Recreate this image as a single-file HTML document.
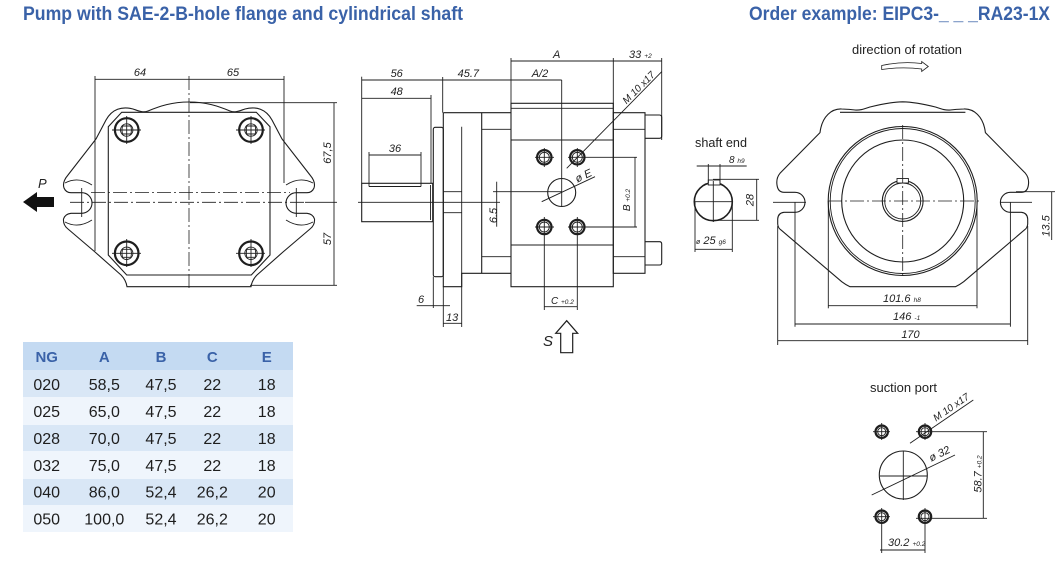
<!DOCTYPE html>
<html><head><meta charset="utf-8"><style>
html,body{margin:0;padding:0;background:#fff;}
svg{display:block;}
.l{stroke:#1e1e1e;stroke-width:1.1;fill:none;}
.t{stroke:#1e1e1e;stroke-width:0.9;fill:none;}
.c{stroke:#1e1e1e;stroke-width:0.8;fill:none;stroke-dasharray:14 3 2 3;}
.d{font-family:"Liberation Sans",sans-serif;font-style:italic;font-size:11px;fill:#222;}
.s{font-family:"Liberation Sans",sans-serif;font-style:italic;font-size:7px;fill:#222;}
.n{font-family:"Liberation Sans",sans-serif;font-size:13px;fill:#222;}
.h{font-family:"Liberation Sans",sans-serif;font-weight:bold;font-size:19px;fill:#3a62a8;}
.th{font-family:"Liberation Sans",sans-serif;font-weight:bold;font-size:15px;fill:#3a62a8;}
.td{font-family:"Liberation Sans",sans-serif;font-size:16px;fill:#1e1e1e;}
.ring{stroke:#1e1e1e;stroke-width:2.2;fill:none;}
</style></head><body>
<svg width="1055" height="561" viewBox="0 0 1055 561" xmlns="http://www.w3.org/2000/svg">
<rect width="1055" height="561" fill="#fff"/>
<!-- Titles -->
<text class="h" x="23" y="20" textLength="440" lengthAdjust="spacingAndGlyphs">Pump with SAE-2-B-hole flange and cylindrical shaft</text>
<text class="h" x="749" y="20" textLength="301" lengthAdjust="spacingAndGlyphs">Order example: EIPC3-_ _ _RA23-1X</text>

<!-- ================= LEFT VIEW ================= -->
<path class="l" d="M189,102 C172,102 160,106 148,111 C143,113 139,111 133,109 C122,106 112,109 106,120 L96,139 L68,175 Q62,182 64,188 Q66,192.7 71,192.7 L81.7,192.7 A10.3,10.3 0 0 1 81.7,213.3 L71,213.3 Q65,214 63.5,219 Q63,225 68,229 L95,252 L121,275 Q126,280 127,286.7 L251,286.7 Q252,280 257,275 L283,252 L310,229 Q315,225 314.5,219 Q313,214 307,213.3 L296.3,213.3 A10.3,10.3 0 0 1 296.3,192.7 L307,192.7 Q312,192.7 314,188 Q316,182 310,175 L282,139 L272,120 C266,109 256,106 245,109 C239,111 235,113 230,111 C218,106 206,102 189,102 Z"/>
<!-- lobe fillets -->
<path class="t" d="M65,183 Q78,176 92,185"/>
<path class="t" d="M65,222 Q78,229 92,220"/>
<path class="t" d="M313,183 Q300,176 286,185"/>
<path class="t" d="M313,222 Q300,229 286,220"/>
<!-- inner plate -->
<path class="l" d="M121.7,112.3 L256.3,112.3 L270,126.7 L270,255 L251.3,275 L126.7,275 L108.3,255 L108.3,126.7 Z"/>
<!-- side lines / ext -->
<line class="t" x1="95" y1="76" x2="95" y2="251"/>
<line class="t" x1="284" y1="76" x2="284" y2="183"/>
<!-- bolts -->
<g>
<circle class="ring" cx="126.7" cy="130" r="11.8"/><circle class="t" cx="126.7" cy="130" r="6.2"/><path class="t" d="M122.5,126 L130.9,126 L131.5,130 L130.9,134 L122.5,134 L121.9,130 Z"/><line class="t" x1="112" y1="130" x2="141" y2="130"/><line class="t" x1="126.7" y1="116" x2="126.7" y2="144"/>
<circle class="ring" cx="251" cy="130" r="11.8"/><circle class="t" cx="251" cy="130" r="6.2"/><path class="t" d="M246.8,126 L255.2,126 L255.8,130 L255.2,134 L246.8,134 L246.2,130 Z"/><line class="t" x1="236" y1="130" x2="265" y2="130"/><line class="t" x1="251" y1="116" x2="251" y2="144"/>
<circle class="ring" cx="126.7" cy="253.3" r="11.8"/><circle class="t" cx="126.7" cy="253.3" r="6.2"/><path class="t" d="M122.5,249.3 L130.9,249.3 L131.5,253.3 L130.9,257.3 L122.5,257.3 L121.9,253.3 Z"/><line class="t" x1="112" y1="253.3" x2="141" y2="253.3"/><line class="t" x1="126.7" y1="239" x2="126.7" y2="267"/>
<circle class="ring" cx="251" cy="253.3" r="11.8"/><circle class="t" cx="251" cy="253.3" r="6.2"/><path class="t" d="M246.8,249.3 L255.2,249.3 L255.8,253.3 L255.2,257.3 L246.8,257.3 L246.2,253.3 Z"/><line class="t" x1="236" y1="253.3" x2="265" y2="253.3"/><line class="t" x1="251" y1="239" x2="251" y2="267"/>
</g>
<!-- center lines -->
<line class="c" x1="189" y1="76" x2="189" y2="290"/>
<line class="c" x1="70" y1="202.3" x2="305" y2="202.3"/>
<line class="c" x1="91" y1="192.5" x2="290" y2="192.5"/>
<line class="t" x1="81.7" y1="188" x2="81.7" y2="217"/>
<line class="t" x1="296.3" y1="188" x2="296.3" y2="217"/>
<!-- dims -->
<line class="t" x1="95" y1="79.3" x2="284" y2="79.3"/>
<text class="d" x="140" y="76" text-anchor="middle">64</text>
<text class="d" x="233" y="76" text-anchor="middle">65</text>
<line class="t" x1="190" y1="102.7" x2="337" y2="102.7"/>
<line class="t" x1="305" y1="202.3" x2="337" y2="202.3"/>
<line class="t" x1="250" y1="285.3" x2="337" y2="285.3"/>
<line class="t" x1="334" y1="102.7" x2="334" y2="285.3"/>
<text class="d" transform="translate(331,153) rotate(-90)" text-anchor="middle">67,5</text>
<text class="d" transform="translate(331,239) rotate(-90)" text-anchor="middle">57</text>
<!-- P arrow -->
<path d="M23,202 L37,192 L37,197 L54,197 L54,207 L37,207 L37,212 Z" fill="#111"/>
<text class="d" x="38" y="188" style="font-size:13px">P</text>

<!-- ================= MIDDLE VIEW ================= -->
<!-- shaft -->
<rect class="l" x="361.7" y="183.3" width="71" height="38.4"/>
<line class="t" x1="369" y1="186.5" x2="421" y2="186.5"/>
<line class="t" x1="430.5" y1="185" x2="430.5" y2="220"/>
<!-- pilot -->
<rect class="l" x="433.3" y="127.3" width="10" height="149.4" rx="2"/>
<!-- flange -->
<path class="l" d="M443.3,112.7 L511,112.7 M443.3,112.7 L443.3,286.7 L461.7,286.7 L461.7,273.3 L511,273.3 M481.7,112.7 L481.7,273.3"/>
<line class="t" x1="461.7" y1="126.7" x2="461.7" y2="286.7"/>
<line class="t" x1="443.3" y1="191.7" x2="461.7" y2="191.7"/>
<line class="t" x1="443.3" y1="212.7" x2="461.7" y2="212.7"/>
<line class="t" x1="481.7" y1="129.3" x2="511" y2="129.3"/>
<line class="t" x1="481.7" y1="256.7" x2="511" y2="256.7"/>
<!-- main body -->
<rect class="l" x="511" y="103.3" width="102.3" height="183.4"/>
<line class="t" x1="511" y1="108.3" x2="613.3" y2="108.3"/>
<line class="l" x1="511" y1="140" x2="613.3" y2="140"/>
<line class="l" x1="511" y1="245" x2="613.3" y2="245"/>
<!-- rear -->
<rect class="l" x="613.3" y="112.7" width="31.7" height="160.6"/>
<line class="t" x1="613.3" y1="129.3" x2="645" y2="129.3"/>
<line class="t" x1="613.3" y1="256.7" x2="645" y2="256.7"/>
<path class="l" d="M645,115 L659.5,115 Q661.7,115 661.7,117.5 L661.7,136 Q661.7,138.3 659.5,138.3 L645,138.3"/>
<path class="l" d="M645,241.7 L659.5,241.7 Q661.7,241.7 661.7,244 L661.7,262.7 Q661.7,265 659.5,265 L645,265"/>
<!-- ports -->
<circle class="ring" cx="544.3" cy="157.3" r="7.2"/><circle class="t" cx="544.3" cy="157.3" r="5"/>
<circle class="ring" cx="577.3" cy="157.3" r="7.2"/><circle class="t" cx="577.3" cy="157.3" r="5"/>
<circle class="ring" cx="544.3" cy="227" r="7.2"/><circle class="t" cx="544.3" cy="227" r="5"/>
<circle class="ring" cx="577.3" cy="227" r="7.2"/><circle class="t" cx="577.3" cy="227" r="5"/>
<line class="t" x1="535" y1="157.3" x2="554" y2="157.3"/><line class="t" x1="544.3" y1="148" x2="544.3" y2="167"/>
<line class="t" x1="568" y1="157.3" x2="637" y2="157.3"/><line class="t" x1="577.3" y1="148" x2="577.3" y2="167"/>
<line class="t" x1="535" y1="227" x2="554" y2="227"/><line class="t" x1="544.3" y1="217" x2="544.3" y2="310"/>
<line class="t" x1="568" y1="227" x2="637" y2="227"/><line class="t" x1="577.3" y1="217" x2="577.3" y2="310"/>
<!-- phi E -->
<circle class="l" cx="561.7" cy="192.5" r="14"/>
<line class="t" x1="561.7" y1="80" x2="561.7" y2="207"/>
<line class="t" x1="493" y1="191.7" x2="561.7" y2="191.7"/>
<line class="t" x1="358" y1="202.3" x2="500" y2="202.3"/>
<line class="t" x1="496.7" y1="181.7" x2="496.7" y2="226.7"/>
<text class="d" transform="translate(497,215.5) rotate(-90)" text-anchor="middle">6.5</text>
<line class="t" x1="541.7" y1="201.7" x2="595" y2="176.7"/>
<text class="d" transform="translate(585,179) rotate(-25)" text-anchor="middle">ø E</text>
<line class="t" x1="566.7" y1="168.3" x2="661.7" y2="71.7"/>
<text class="d" transform="translate(641,90) rotate(-45)" text-anchor="middle" style="font-size:10px">M 10 x17</text>
<!-- B -->
<line class="t" x1="635" y1="157.3" x2="635" y2="227"/>
<text class="d" transform="translate(630,200) rotate(-90)" text-anchor="middle" style="font-size:10px">B <tspan style="font-size:6.5px">+0.2</tspan></text>
<!-- C -->
<line class="t" x1="544.3" y1="306.7" x2="577.3" y2="306.7"/>
<text class="d" x="551" y="304" style="font-size:10px">C <tspan style="font-size:6.5px">+0.2</tspan></text>
<!-- 6 & 13 -->
<line class="t" x1="433.3" y1="276.7" x2="433.3" y2="308"/>
<line class="t" x1="416.7" y1="305.7" x2="450" y2="305.7"/>
<text class="d" x="418" y="303">6</text>
<line class="t" x1="443.3" y1="286.7" x2="443.3" y2="327"/>
<line class="t" x1="461.7" y1="286.7" x2="461.7" y2="327"/>
<line class="t" x1="443.3" y1="323.3" x2="461.7" y2="323.3"/>
<text class="d" x="446" y="321">13</text>
<!-- top dims -->
<line class="t" x1="511" y1="61" x2="661.7" y2="61"/>
<line class="t" x1="511" y1="58" x2="511" y2="103.3"/>
<line class="t" x1="613.3" y1="58" x2="613.3" y2="112.7"/>
<line class="t" x1="661.7" y1="58" x2="661.7" y2="140"/>
<text class="d" x="556.7" y="58" text-anchor="middle">A</text>
<text class="d" x="629" y="58">33 <tspan style="font-size:6.5px">+2</tspan></text>
<line class="t" x1="361.7" y1="80" x2="561.7" y2="80"/>
<line class="t" x1="361.7" y1="76.7" x2="361.7" y2="183.3"/>
<line class="t" x1="442.7" y1="77" x2="442.7" y2="112.7"/>
<text class="d" x="396.7" y="77" text-anchor="middle">56</text>
<text class="d" x="468.3" y="77" text-anchor="middle">45.7</text>
<text class="d" x="540" y="77" text-anchor="middle">A/2</text>
<line class="t" x1="361.7" y1="98.3" x2="431" y2="98.3"/>
<line class="t" x1="431" y1="95" x2="431" y2="183.3"/>
<text class="d" x="396.7" y="95" text-anchor="middle">48</text>
<line class="t" x1="369" y1="155" x2="421" y2="155"/>
<line class="t" x1="369" y1="152" x2="369" y2="186.5"/>
<line class="t" x1="421" y1="152" x2="421" y2="186.5"/>
<text class="d" x="395" y="152" text-anchor="middle">36</text>
<!-- S arrow -->
<path d="M566.7,320.7 L577.7,333.3 L572.7,333.3 L572.7,352.7 L560.7,352.7 L560.7,333.3 L555.7,333.3 Z" fill="#fff" stroke="#1e1e1e" stroke-width="1.2"/>
<text class="d" x="543" y="346" style="font-size:15px">S</text>

<!-- ================= SHAFT END ================= -->
<text class="n" x="695" y="147" textLength="52" lengthAdjust="spacingAndGlyphs">shaft end</text>
<circle cx="713.3" cy="201.7" r="19" fill="none" stroke="#1e1e1e" stroke-width="1.6"/>
<rect x="708.3" y="180" width="11.7" height="5" fill="#fff" stroke="#1e1e1e" stroke-width="0.9"/>
<line class="t" x1="694" y1="201.7" x2="733" y2="201.7"/>
<line class="t" x1="713.3" y1="181" x2="713.3" y2="222"/>
<line class="t" x1="708.3" y1="164" x2="708.3" y2="183"/>
<line class="t" x1="720" y1="164" x2="720" y2="183"/>
<line class="t" x1="696.7" y1="166" x2="746.7" y2="166"/>
<text class="d" x="729" y="163" style="font-size:10px">8 <tspan style="font-size:6.5px">h9</tspan></text>
<line class="t" x1="713" y1="179.3" x2="759" y2="179.3"/>
<line class="t" x1="713" y1="220.3" x2="759" y2="220.3"/>
<line class="t" x1="756.7" y1="179.3" x2="756.7" y2="220.3"/>
<text class="d" transform="translate(753.5,200) rotate(-90)" text-anchor="middle">28</text>
<line class="t" x1="695" y1="201.7" x2="695" y2="252"/>
<line class="t" x1="732.3" y1="201.7" x2="732.3" y2="252"/>
<line class="t" x1="695" y1="249.3" x2="732.3" y2="249.3"/>
<text class="d" x="696" y="244" style="font-size:11px"><tspan style="font-size:7px">ø</tspan> 25 <tspan style="font-size:6.5px">g6</tspan></text>

<!-- ================= RIGHT VIEW ================= -->
<text class="n" x="852" y="54" textLength="110" lengthAdjust="spacingAndGlyphs">direction of rotation</text>
<path d="M881.7,65.5 Q902,61 921.7,63.5 L921.7,61.5 L928.3,66.5 L921.7,71.5 L921.7,69 Q902,66.5 881.7,69.5 Z" fill="#fff" stroke="#1e1e1e" stroke-width="0.8"/>
<path class="l" d="M902.7,101.8 C890,102 878,105 870,107 C864,109 860,110.5 855,110 C850,109.5 846,109 841.7,109 C832,108.5 822,116 820,132.6 L780,173.3 Q776,178 777,185 Q778,192.3 784,192.3 L795,192.3 A10,10 0 0 1 795,212.3 L784,212.3 Q778,213 777.7,219 L777.7,224 Q778,228 781,230 L841.7,281.7 Q846,285 850,286.7 L955.4,286.7 Q959.4,285 963.7,281.7 L1024.4,230 Q1027.4,228 1027.7,224 L1027.7,219 Q1027.4,213 1021.4,212.3 L1010.4,212.3 A10,10 0 0 1 1010.4,192.3 L1021.4,192.3 Q1027.4,192.3 1028.4,185 Q1029.4,178 1025.4,173.3 L985.4,132.6 C983.4,116 973.4,108.5 963.7,109 C959.4,109 955.4,109.5 950.4,110 C945.4,110.5 941.4,109 935.4,107 C927.4,105 915.4,102 902.7,101.8 Z"/>
<line class="l" x1="840" y1="112.3" x2="965.4" y2="112.3"/>
<circle class="l" cx="902.7" cy="201" r="74.5"/>
<circle class="t" cx="902.7" cy="201" r="72.5"/>
<circle class="l" cx="902.7" cy="201" r="61"/>
<circle class="l" cx="902.7" cy="201" r="20.4"/>
<circle class="t" cx="902.7" cy="201" r="18"/>
<rect x="897" y="178.5" width="11.4" height="4.5" fill="#fff" stroke="#1e1e1e" stroke-width="0.9"/>
<line class="c" x1="828" y1="201" x2="980" y2="201"/>
<line class="c" x1="902.7" y1="125" x2="902.7" y2="277"/>
<line class="t" x1="773" y1="202.3" x2="806" y2="202.3"/>
<line class="t" x1="1000" y1="202.3" x2="1032" y2="202.3"/>
<line class="t" x1="1016" y1="191.7" x2="1055" y2="191.7"/>
<line class="t" x1="1051.7" y1="191.7" x2="1051.7" y2="240"/>
<text class="d" transform="translate(1049.5,226) rotate(-90)" text-anchor="middle">13.5</text>
<line class="t" x1="828.3" y1="201" x2="828.3" y2="308.3"/>
<line class="t" x1="977" y1="201" x2="977" y2="308.3"/>
<line class="t" x1="828.3" y1="305.7" x2="977" y2="305.7"/>
<text class="d" x="883" y="302">101.6 <tspan style="font-size:6.5px">h8</tspan></text>
<line class="t" x1="795" y1="202" x2="795" y2="326.7"/>
<line class="t" x1="1010.4" y1="202" x2="1010.4" y2="326.7"/>
<line class="t" x1="795" y1="324" x2="1010.4" y2="324"/>
<text class="d" x="893" y="320">146 <tspan style="font-size:6.5px">-1</tspan></text>
<line class="t" x1="777.7" y1="226" x2="777.7" y2="345"/>
<line class="t" x1="1027.7" y1="226" x2="1027.7" y2="345"/>
<line class="t" x1="777.7" y1="340.7" x2="1027.7" y2="340.7"/>
<text class="d" x="910.5" y="338" text-anchor="middle">170</text>

<!-- ================= SUCTION PORT ================= -->
<text class="n" x="870" y="392" textLength="67" lengthAdjust="spacingAndGlyphs">suction port</text>
<circle class="ring" cx="881.7" cy="431.7" r="6.2"/><circle class="t" cx="881.7" cy="431.7" r="4"/>
<circle class="ring" cx="925" cy="431.7" r="6.2"/><circle class="t" cx="925" cy="431.7" r="4"/>
<circle class="ring" cx="881.7" cy="516.7" r="6.2"/><circle class="t" cx="881.7" cy="516.7" r="4"/>
<circle class="ring" cx="925" cy="516.7" r="6.2"/><circle class="t" cx="925" cy="516.7" r="4"/>
<line class="t" x1="873" y1="431.7" x2="890" y2="431.7"/><line class="t" x1="881.7" y1="423" x2="881.7" y2="440"/>
<line class="t" x1="916" y1="431.7" x2="987" y2="431.7"/><line class="t" x1="925" y1="423" x2="925" y2="440"/>
<line class="t" x1="873" y1="516.7" x2="890" y2="516.7"/><line class="t" x1="881.7" y1="508" x2="881.7" y2="553"/>
<line class="t" x1="916" y1="518.3" x2="987" y2="518.3"/><line class="t" x1="925" y1="508" x2="925" y2="553"/>
<circle class="l" cx="903.3" cy="475" r="24"/>
<line class="t" x1="903.3" y1="451" x2="903.3" y2="500"/>
<line class="t" x1="880" y1="476" x2="927" y2="476"/>
<line class="t" x1="871.7" y1="495" x2="955" y2="455"/>
<text class="d" transform="translate(941,457) rotate(-25.6)" text-anchor="middle">ø 32</text>
<line class="t" x1="910" y1="443.3" x2="973.3" y2="400"/>
<text class="d" transform="translate(953,410) rotate(-34.4)" text-anchor="middle" style="font-size:10px">M 10 x17</text>
<line class="t" x1="983.3" y1="431.7" x2="983.3" y2="518.3"/>
<text class="d" transform="translate(981.5,474) rotate(-90)" text-anchor="middle">58.7 <tspan style="font-size:6.5px">+0.2</tspan></text>
<line class="t" x1="880" y1="550" x2="925" y2="550"/>
<text class="d" x="888" y="546">30.2 <tspan style="font-size:6.5px">+0.2</tspan></text>

<!-- ================= TABLE ================= -->
<rect x="23" y="342" width="270" height="28" fill="#c4daf2"/>
<rect x="23" y="370" width="270" height="27" fill="#d9e7f6"/>
<rect x="23" y="397" width="270" height="28" fill="#eff5fc"/>
<rect x="23" y="425" width="270" height="26" fill="#d9e7f6"/>
<rect x="23" y="451" width="270" height="28" fill="#eff5fc"/>
<rect x="23" y="479" width="270" height="26" fill="#d9e7f6"/>
<rect x="23" y="505" width="270" height="27" fill="#eff5fc"/>
<g class="th" text-anchor="middle">
<text x="46.7" y="362">NG</text><text x="104.3" y="362">A</text><text x="161" y="362">B</text><text x="212.3" y="362">C</text><text x="266.7" y="362">E</text>
</g>
<g class="td" text-anchor="middle">
<text x="46.7" y="390">020</text><text x="104.3" y="390">58,5</text><text x="161" y="390">47,5</text><text x="212.3" y="390">22</text><text x="266.7" y="390">18</text>
<text x="46.7" y="417">025</text><text x="104.3" y="417">65,0</text><text x="161" y="417">47,5</text><text x="212.3" y="417">22</text><text x="266.7" y="417">18</text>
<text x="46.7" y="444">028</text><text x="104.3" y="444">70,0</text><text x="161" y="444">47,5</text><text x="212.3" y="444">22</text><text x="266.7" y="444">18</text>
<text x="46.7" y="471">032</text><text x="104.3" y="471">75,0</text><text x="161" y="471">47,5</text><text x="212.3" y="471">22</text><text x="266.7" y="471">18</text>
<text x="46.7" y="497.5">040</text><text x="104.3" y="497.5">86,0</text><text x="161" y="497.5">52,4</text><text x="212.3" y="497.5">26,2</text><text x="266.7" y="497.5">20</text>
<text x="46.7" y="524.5">050</text><text x="104.3" y="524.5">100,0</text><text x="161" y="524.5">52,4</text><text x="212.3" y="524.5">26,2</text><text x="266.7" y="524.5">20</text>
</g>
</svg>
</body></html>
